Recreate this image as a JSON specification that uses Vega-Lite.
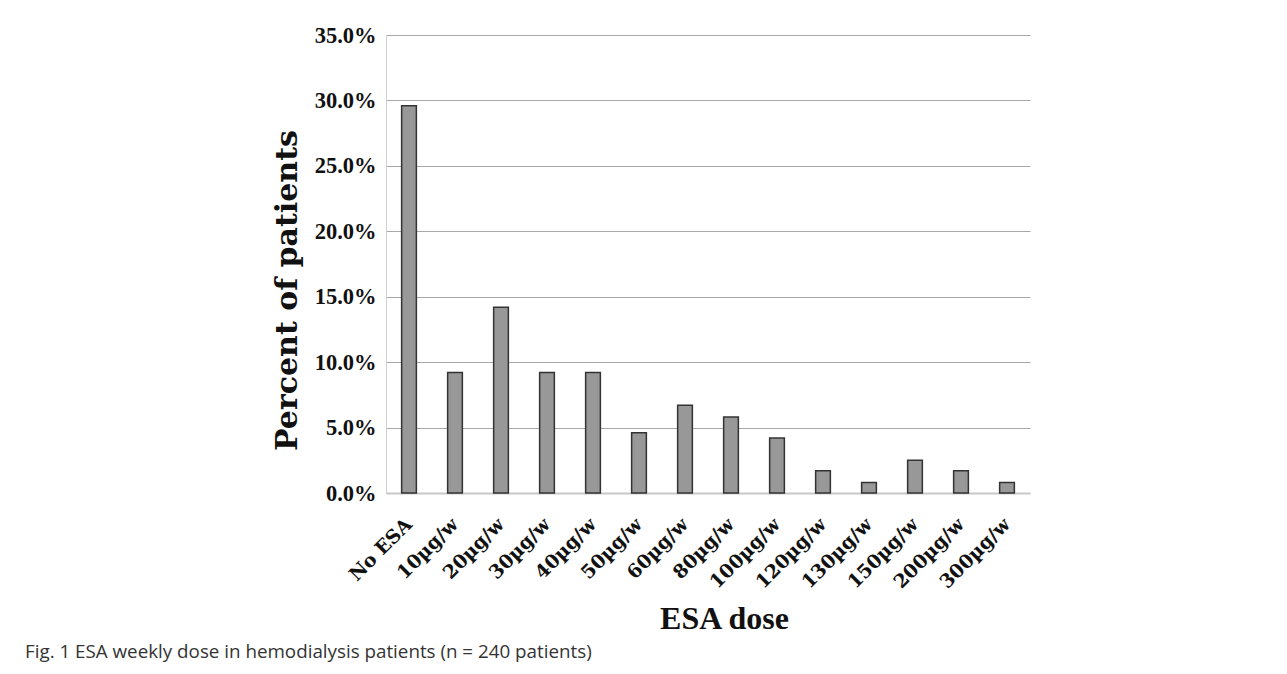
{
  "$schema": "https://vega.github.io/schema/vega-lite/v6.json",
  "width": 644,
  "height": 458,
  "autosize": {"type": "none"},
  "padding": {"left": 386, "top": 35, "right": 257, "bottom": 181},
  "background": "white",
  "data": {
    "values": [
      {"dose": "No ESA", "pct": 0.296},
      {"dose": "10µg/w", "pct": 0.092},
      {"dose": "20µg/w", "pct": 0.142},
      {"dose": "30µg/w", "pct": 0.092},
      {"dose": "40µg/w", "pct": 0.092},
      {"dose": "50µg/w", "pct": 0.046},
      {"dose": "60µg/w", "pct": 0.067},
      {"dose": "80µg/w", "pct": 0.058},
      {"dose": "100µg/w", "pct": 0.042},
      {"dose": "120µg/w", "pct": 0.017},
      {"dose": "130µg/w", "pct": 0.008},
      {"dose": "150µg/w", "pct": 0.025},
      {"dose": "200µg/w", "pct": 0.017},
      {"dose": "300µg/w", "pct": 0.008}
    ]
  },
  "title": {
    "text": "Fig. 1 ESA weekly dose in hemodialysis patients (n = 240 patients)",
    "orient": "bottom",
    "anchor": "start",
    "frame": "group",
    "dx": -361,
    "offset": 8,
    "font": "Open Sans",
    "fontSize": 18.8,
    "fontWeight": "normal",
    "color": "#333333"
  },
  "mark": {"type": "bar", "fill": "#989898", "stroke": "#333333", "strokeWidth": 1.5},
  "encoding": {
    "x": {
      "field": "dose",
      "type": "nominal",
      "sort": null,
      "scale": {"paddingInner": 0.68, "paddingOuter": 0.34},
      "axis": {
        "title": "ESA dose",
        "titleFont": "Liberation Serif",
        "titleFontSize": 32,
        "titleFontWeight": "bold",
        "titleColor": "#111111",
        "titlePadding": 12,
        "titleX": 338,
        "labelFont": "DejaVu Serif",
        "labelFontSize": 19,
        "labelFontWeight": "bold",
        "labelColor": "#111111",
        "labelAngle": -45,
        "labelAlign": "right",
        "labelBaseline": "middle",
        "labelPadding": 28,
        "ticks": false,
        "domainColor": "#c8c8c8",
        "domainWidth": 2
      }
    },
    "y": {
      "field": "pct",
      "type": "quantitative",
      "scale": {"domain": [0, 0.35]},
      "axis": {
        "title": "Percent of patients",
        "titleFont": "DejaVu Serif",
        "titleFontSize": 30,
        "titleFontWeight": "bold",
        "titleColor": "#111111",
        "titlePadding": 12,
        "titleY": 255,
        "values": [0, 0.05, 0.1, 0.15, 0.2, 0.25, 0.3, 0.35],
        "format": ".1%",
        "labelFont": "Liberation Serif",
        "labelFontSize": 22.5,
        "labelFontWeight": "bold",
        "labelColor": "#111111",
        "labelPadding": 10,
        "ticks": false,
        "domainColor": "#d0d0d0",
        "gridColor": "#a8a8a8",
        "gridWidth": 1
      }
    }
  },
  "config": {"view": {"stroke": null}}
}
